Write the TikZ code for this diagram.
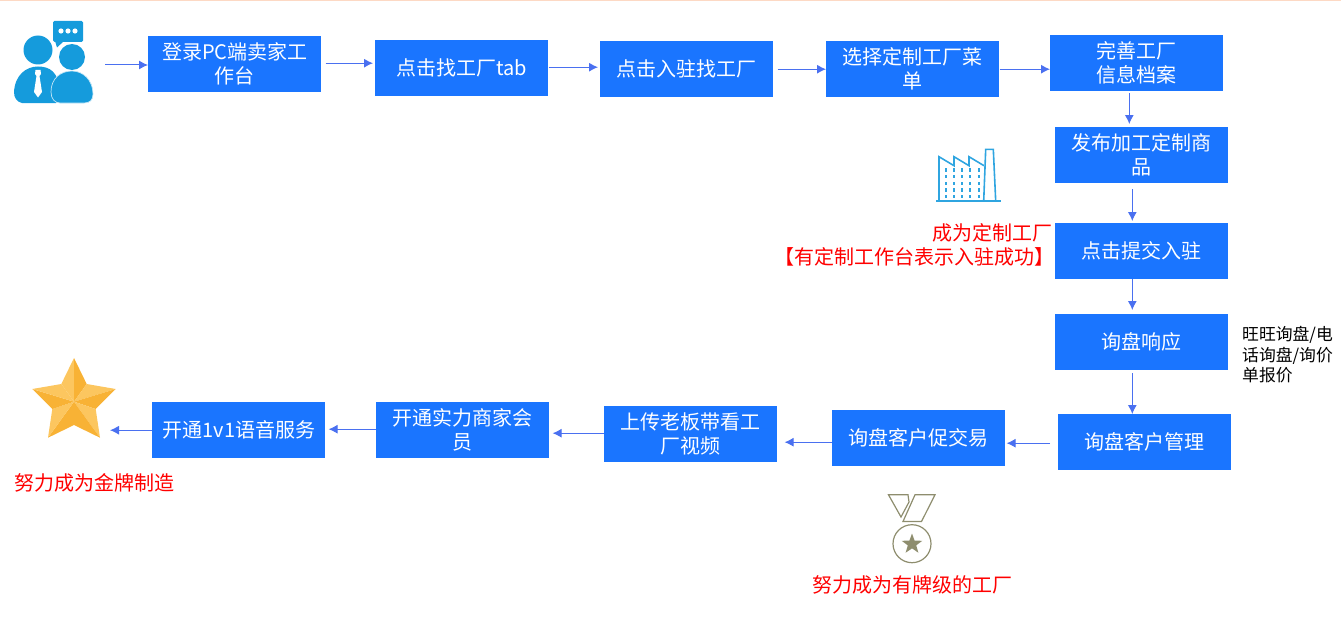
\documentclass[tikz,border=0pt]{standalone}
\usepackage{fontspec}
\setmainfont{Noto Sans CJK SC}
\usetikzlibrary{arrows.meta}
\definecolor{boxblue}{HTML}{1A75FF}
\definecolor{arrowblue}{HTML}{4A70F0}
\definecolor{iconblue}{HTML}{159BDC}
\definecolor{facblue}{HTML}{2FA5E0}
\definecolor{medal}{HTML}{8E8D6E}
\definecolor{stara}{HTML}{FCC65F}
\definecolor{starb}{HTML}{F8B235}
\definecolor{topline}{HTML}{FDD9C4}
\tikzset{
 flowbox/.style={fill=boxblue,text=white,minimum width=173.2pt,minimum height=56pt,inner sep=0pt,align=center,font=\fontsize{20}{24}\selectfont,anchor=north west},
 arr/.style={draw=arrowblue,line width=1pt,-{Latex[length=9pt,width=9pt]}},
 redtxt/.style={text=red,font=\fontsize{20}{27}\selectfont,inner sep=0pt},
 blktxt/.style={text=black,font=\fontsize{16.8}{20.5}\selectfont,inner sep=0pt,align=left,anchor=west},
}
\begin{document}
\begin{tikzpicture}[x=1pt,y=-1pt]
\useasboundingbox (0,0) rectangle (1341,626);
\fill[topline] (0,0) rectangle (1341,1.2);
% boxes
\node[flowbox] (b1) at (148,36) {登录PC端卖家工\\作台};
\node[flowbox] (b2) at (375,40) {点击找工厂tab};
\node[flowbox] (b3) at (600,41) {点击入驻找工厂};
\node[flowbox] (b4) at (826,41) {选择定制工厂菜\\单};
\node[flowbox] (b5) at (1050,35) {完善工厂\\信息档案};
\node[flowbox] (b6) at (1055,127) {发布加工定制商\\品};
\node[flowbox] (b7) at (1055,223) {点击提交入驻};
\node[flowbox] (b8) at (1055,314) {询盘响应};
\node[flowbox] (b9) at (1058,414) {询盘客户管理};
\node[flowbox] (b10) at (832,410) {询盘客户促交易};
\node[flowbox] (b11) at (604,406) {上传老板带看工\\厂视频};
\node[flowbox] (b12) at (376,402) {开通实力商家会\\员};
\node[flowbox] (b13) at (152,402) {开通1v1语音服务};
% person icon
\coordinate (person) at (105,65);
\fill[iconblue,rounded corners=1.5pt] (53,21) rectangle (83,42);
\fill[iconblue] (55,41) -- (57,47.5) -- (64,41) -- cycle;
\foreach \x in {61,68,75} \fill[white] (\x,31) circle (2.6);
\fill[iconblue] (38,50) circle (14.5);
\fill[iconblue] (72,57) circle (13);
\fill[iconblue] (14,92) .. controls (15,75) and (26,66.5) .. (38,66.5) .. controls (50,66.5) and (58,72) .. (60,90) -- (56,103) -- (22,103) .. controls (17,102) and (14,98) .. (14,92) -- cycle;
\fill[iconblue,draw=white!75!iconblue,line width=0.7pt] (51,92) .. controls (51,78) and (61,71) .. (72,71) .. controls (83,71) and (93,80) .. (93,94) .. controls (93,100) and (90,103) .. (84,103) -- (60,103) .. controls (55,103) and (51,99) .. (51,92) -- cycle;
\fill[white] (35.5,70) -- (40.5,70) -- (41,74) -- (39.5,76) -- (42,92) -- (38,97.5) -- (34,92) -- (36.5,76) -- (35,74) -- cycle;
% factory icon
\draw[facblue,line width=1.7pt] (936,201) -- (1001,201);
\draw[facblue,line width=1.6pt,line join=miter] (939,201) -- (939,156.7) -- (954,165.7) -- (954,156.7) -- (969,165.7) -- (969,156.7) -- (984,165.7);
\draw[facblue,line width=1.6pt,line join=miter] (983.7,201) -- (985.7,149.3) -- (993.3,149.3) -- (995.7,201);
\foreach \x in {945.7,954,962,970.3,979} \foreach \y in {170,176.7,183.3,190,196.7}
  \fill[facblue] (\x-1.1,\y-1.7) rectangle (\x+1.1,\y+1.7);
% star icon
\coordinate (starend) at (110,430);
\fill[stara] (74,358) -- (61.3,384) -- (74,401.7) -- cycle;
\fill[starb] (74,358) -- (86.7,384) -- (74,401.7) -- cycle;
\fill[stara] (115.7,389) -- (86.7,384) -- (74,401.7) -- cycle;
\fill[starb] (115.7,389) -- (95.7,409) -- (74,401.7) -- cycle;
\fill[stara] (100,437.7) -- (95.7,409) -- (74,401.7) -- cycle;
\fill[starb] (100,437.7) -- (74,425) -- (74,401.7) -- cycle;
\fill[starb] (48,437.7) -- (74,425) -- (74,401.7) -- cycle;
\fill[stara] (48,437.7) -- (52.3,409) -- (74,401.7) -- cycle;
\fill[starb] (32.3,389) -- (52.3,409) -- (74,401.7) -- cycle;
\fill[stara] (32.3,389) -- (61.3,384) -- (74,401.7) -- cycle;
% medal icon
\draw[medal,line width=1.2pt,line join=miter] (888.5,494.8) -- (908,494.8) -- (909,502) -- (901,517) -- cycle;
\draw[medal,line width=1.2pt,line join=miter] (915,494.8) -- (935,494.8) -- (921.5,521.5) -- (903,521.5) -- cycle;
\draw[medal,line width=1.2pt] (912,543.7) circle (19);
\fill[medal] (912,533.5) -- (914.6,540.6) -- (922.3,540.8) -- (916.2,545.4) -- (918.4,552.7) -- (912,548.4) -- (905.6,552.7) -- (907.8,545.4) -- (901.7,540.8) -- (909.4,540.6) -- cycle;
% connectors
\draw[arr] (person) -- (person -| b1.west);
\draw[arr,shorten <=4pt,shorten >=2pt] ([yshift=1pt]b1.east) -- ([yshift=1pt]b1.east -| b2.west);
\draw[arr,shorten >=2pt] ([yshift=1pt]b2.east) -- ([yshift=1pt]b2.east -| b3.west);
\draw[arr,shorten <=4pt] (b3.east) -- (b3.east -| b4.west);
\draw[arr] (b4.east) -- (b4.east -| b5.west);
\draw[arr,shorten <=2pt,shorten >=3pt] ([xshift=-7.5pt]b5.south) -- ([xshift=-7.5pt]b5.south |- b6.north);
\draw[arr,shorten <=6pt,shorten >=2pt] ([xshift=-9.5pt]b6.south) -- ([xshift=-9.5pt]b6.south |- b7.north);
\draw[arr,shorten >=4pt] ([xshift=-9.5pt]b7.south) -- ([xshift=-9.5pt]b7.south |- b8.north);
\draw[arr,shorten <=3pt] ([xshift=-9.5pt]b8.south) -- ([xshift=-9.5pt]b8.south |- b9.north);
\draw[arr,shorten <=8pt,shorten >=1pt] ([yshift=-1pt]b9.west) -- ([yshift=-1pt]b9.west -| b10.east);
\draw[arr,shorten >=7pt] ([yshift=-4pt]b10.west) -- ([yshift=-4pt]b10.west -| b11.east);
\draw[arr,shorten >=3pt] ([yshift=1pt]b11.west) -- ([yshift=1pt]b11.west -| b12.east);
\draw[arr,shorten >=3pt] ([yshift=1pt]b12.west) -- ([yshift=1pt]b12.west -| b13.east);
\draw[arr] (b13.west) -- (b13.west -| starend);
% labels
\node[redtxt,anchor=east] (t1) at (1053,233) {成为定制工厂};
\node[redtxt,anchor=east] (t2) at (1055,257) {【有定制工作台表示入驻成功】};
\node[blktxt] (t3) at (1242,355) {旺旺询盘/电\\话询盘/询价\\单报价};
\node[redtxt,anchor=west] (t4) at (14,483) {努力成为金牌制造};
\node[redtxt,anchor=center] (t5) at (912,585) {努力成为有牌级的工厂};
\end{tikzpicture}
\end{document}
